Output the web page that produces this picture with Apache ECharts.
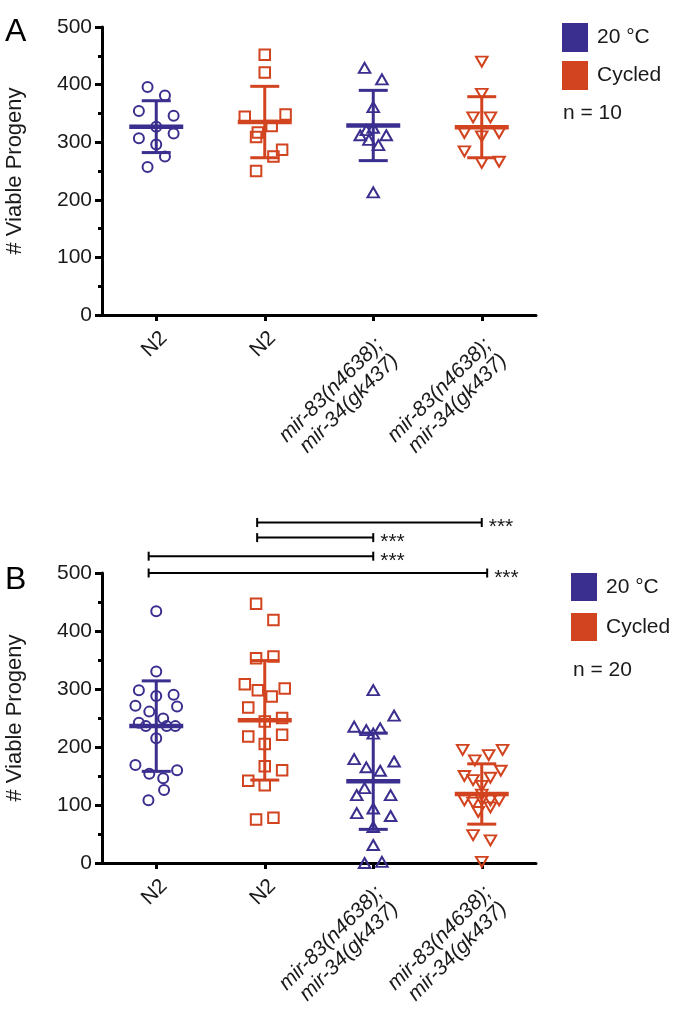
<!DOCTYPE html>
<html><head><meta charset="utf-8">
<script src="https://cdn.jsdelivr.net/npm/echarts@6/dist/echarts.min.js"></script>
<style>html,body{margin:0;padding:0;background:#fff}#c{width:676px;height:1014px}</style>
</head><body><div id="c"></div>
<script>
// ---------- data ----------
const categories = ['N2', 'N2', 'mir-83(n4638);\nmir-34(gk437)', 'mir-83(n4638);\nmir-34(gk437)'];
const categoryItalic = [false, false, true, true];
const yTicks = [0, 100, 200, 300, 400, 500];
const seriesNames = ['20 °C', 'Cycled'];
const groupCondition = [0, 1, 0, 1];          // which legend entry each column belongs to
const groupSymbol = ['circle', 'rect', 'triangle', 'triangleDown'];

// Panel A (n = 10)
const A_N2_20C      = [396, 381, 354, 346, 327, 315, 307, 296, 275, 257];
const A_N2_20C_jit  = [-1, 1, -2, 2, 0, 2, -2, 0, 1, -1];
const A_N2_Cyc      = [452, 421, 348, 344, 328, 317, 309, 287, 275, 250];
const A_N2_Cyc_jit  = [0, 0, 2.4, -2.3, 0.8, -0.8, -1, 2, 1, -1];
const A_mir_20C     = [429, 409, 361, 325, 321, 312, 312, 304, 295, 213];
const A_mir_20C_jit = [-1, 1, 0, 0, -0.8, -1.5, 1.5, -0.5, 0.6, 0];
const A_mir_Cyc     = [440, 384, 343, 343, 316, 316, 310, 284, 266, 264];
const A_mir_Cyc_jit = [0, 0, -1, 1, -2, 2, 0, -2, 2, 0];
const A_mean = [327, 335, 329, 326];
const A_sd   = [45, 62, 61, 53];

// Panel B (n = 20)
const B_N2_20C      = [434, 330, 298, 290, 288, 271, 270, 261, 249, 242, 236, 236, 236, 215, 169, 160, 154, 146, 126, 108];
const B_N2_20C_jit  = [0, 0, -2, 2, 0, -2.4, 2.4, -0.8, 0.8, -2, -1.2, 1.2, 2.2, 0, -2.4, 2.4, -0.8, 0.8, 0.9, -0.9];
const B_N2_Cyc      = [447, 419, 356, 353, 308, 301, 298, 287, 268, 250, 244, 221, 218, 205, 167, 160, 142, 134, 78, 75];
const B_N2_Cyc_jit  = [-1, 1, 1, -1, -2.3, 2.3, -0.8, 0.8, -1.9, 2, 0, 2, -1.9, 0, 0, 2, -1.9, 0, 1, -1];
const B_mir_20C     = [298, 254, 235, 232, 229, 223, 179, 175, 165, 159, 129, 117, 117, 94, 86, 81, 62, 31, 2, 0];
const B_mir_20C_jit = [0, 2.4, -2.2, 0.8, -0.8, 0, -2.2, 2.4, -0.8, 0.8, -1, -1.9, 2, 0, -1.9, 2, 0, 0, 1, -1];
const B_mir_Cyc     = [195, 195, 186, 177, 159, 150, 147, 143, 133, 118, 108, 108, 108, 108, 104, 96, 88, 48, 39, 2];
const B_mir_Cyc_jit = [-2.2, 2.4, 0.8, -0.8, 2.2, -2, 1, -1, 0, 0, -2, 0, 1, 2, -1, 1, -0.4, -1, 1, 0];
const B_mean = [236, 246, 141, 119];
const B_sd   = [78, 103, 83, 52];

// significance comparisons in panel B (category positions, height in y units)
const sigFrom  = [0.93, 0.93, -0.07, -0.07];
const sigTo    = [3, 2, 2, 3.05];
const sigY     = [587, 561, 529, 500];
const sigLabel = ['***', '***', '***', '***'];

const nLabels = ['n = 10', 'n = 20'];
const panelLetters = ['A', 'B'];

// ---------- style ----------
const BLUE = '#3a2e8e';
const ORANGE = '#d2431f';
const condColors = [BLUE, ORANGE];
const FONT = '"Liberation Sans", Arial, Helvetica, sans-serif';
const TXT = '#1a1a1a';
const SLOT = 0.08;   // jitter unit in category widths

const chart = echarts.init(document.getElementById('c'), null, {renderer: 'canvas'});

function symbolOpts(g) {
  const s = groupSymbol[g];
  if (s === 'circle') return {symbol: 'circle', symbolSize: 10};
  if (s === 'rect') return {symbol: 'rect', symbolSize: 10.5};
  if (s === 'triangle') return {symbol: 'triangle', symbolSize: [11.5, 10]};
  return {symbol: 'triangle', symbolSize: [11.5, 10], symbolRotate: 180};
}

function scatterSeries(values, jit, g, xIdx, yIdx) {
  const col = condColors[groupCondition[g]];
  return Object.assign({
    type: 'scatter',
    name: seriesNames[groupCondition[g]],
    xAxisIndex: xIdx, yAxisIndex: yIdx,
    data: values.map((v, i) => [g + jit[i] * SLOT, v]),
    itemStyle: {color: 'rgba(255,255,255,0)', borderColor: col, borderWidth: 2, opacity: 1},
    clip: false, silent: true, z: 2, animation: false
  }, symbolOpts(g));
}

function errorSeries(means, sds, xIdx, yIdx) {
  return {
    type: 'custom', xAxisIndex: xIdx, yAxisIndex: yIdx, clip: false, silent: true, z: 5, animation: false,
    data: means.map((m, i) => [i, m, sds[i]]),
    renderItem: function (params, api) {
      const x = api.value(0), m = api.value(1), s = api.value(2);
      const col = condColors[groupCondition[params.dataIndex]];
      const pm = api.coord([x, m]), pt = api.coord([x, m + s]), pb = api.coord([x, m - s]);
      const ln = (x1, y1, x2, y2, w) => ({type: 'line', shape: {x1, y1, x2, y2}, style: {stroke: col, lineWidth: w, opacity: 1}});
      return {type: 'group', children: [
        ln(pt[0], pt[1], pb[0], pb[1], 3),
        ln(pt[0] - 14.5, pt[1], pt[0] + 14.5, pt[1], 3),
        ln(pb[0] - 14.5, pb[1], pb[0] + 14.5, pb[1], 3),
        ln(pm[0] - 27, pm[1], pm[0] + 27, pm[1], 4.5)
      ]};
    }
  };
}

function sigSeries(xIdx, yIdx) {
  return {
    type: 'custom', xAxisIndex: xIdx, yAxisIndex: yIdx, clip: false, silent: true, z: 5, animation: false,
    data: sigFrom.map((f, i) => [f, sigTo[i], sigY[i]]),
    renderItem: function (params, api) {
      const p1 = api.coord([api.value(0), api.value(2)]);
      const p2 = api.coord([api.value(1), api.value(2)]);
      const st = {stroke: '#000', lineWidth: 2};
      return {type: 'group', children: [
        {type: 'line', shape: {x1: p1[0], y1: p1[1], x2: p2[0], y2: p2[1]}, style: st},
        {type: 'line', shape: {x1: p1[0], y1: p1[1] - 4.5, x2: p1[0], y2: p1[1] + 4.5}, style: st},
        {type: 'line', shape: {x1: p2[0], y1: p2[1] - 4.5, x2: p2[0], y2: p2[1] + 4.5}, style: st},
        {type: 'text', style: {text: sigLabel[params.dataIndex], x: p2[0] + 7, y: p2[1] + 5,
          textAlign: 'left', textVerticalAlign: 'middle', fontSize: 21, fontFamily: FONT, fill: TXT}}
      ]};
    }
  };
}

function yAxis(grid) {
  return {
    gridIndex: grid, type: 'value', min: yTicks[0], max: yTicks[yTicks.length - 1], interval: yTicks[1] - yTicks[0],
    axisLine: {show: true, onZero: false, lineStyle: {color: '#000', width: 3}},
    axisTick: {show: true, length: 7, lineStyle: {color: '#000', width: 3}},
    minorTick: {show: true, splitNumber: 2, length: 4, lineStyle: {color: '#000', width: 3}},
    splitLine: {show: false}, minorSplitLine: {show: false},
    axisLabel: {fontSize: 21, color: TXT, fontFamily: FONT, margin: 10,
      formatter: v => String(yTicks[yTicks.indexOf(v)])},
    name: '# Viable Progeny', nameLocation: 'middle', nameGap: 76,
    nameTextStyle: {fontSize: 22, color: TXT, fontFamily: FONT}
  };
}

function xCatAxis(grid) {
  return {
    gridIndex: grid, type: 'category',
    data: categories.map((c, i) => ({value: c, textStyle: {
      fontStyle: categoryItalic[i] ? 'italic' : 'normal', align: 'right', verticalAlign: 'top',
      padding: categoryItalic[i] ? [4, 6, 0, 0] : 0,
      fontSize: 21, lineHeight: 22, color: TXT, fontFamily: FONT}})),
    axisLine: {show: true, onZero: false, lineStyle: {color: '#000', width: 3}},
    axisTick: {show: true, alignWithLabel: true, length: 6, lineStyle: {color: '#000', width: 3}},
    splitLine: {show: false},
    axisLabel: {interval: 0, rotate: 45, align: 'right', verticalAlign: 'top', margin: 12,
      fontSize: 21, lineHeight: 22, color: TXT, fontFamily: FONT}
  };
}

function xValAxis(grid) {
  return {gridIndex: grid, type: 'value', min: -0.5, max: 3.5, show: false, splitLine: {show: false}};
}

function legend(left, top, gap, h) {
  return {
    left: left, top: top, orient: 'vertical', itemWidth: 26, itemHeight: h, itemGap: gap, selectedMode: false,
    data: seriesNames.map((n, i) => ({name: n, icon: 'rect', itemStyle: {color: condColors[i], borderWidth: 0, opacity: 1}})),
    textStyle: {fontSize: 21, color: TXT, fontFamily: FONT, padding: [0, 0, 0, 4]}
  };
}

const option = {
  backgroundColor: '#fff',
  animation: false,
  textStyle: {fontFamily: FONT},
  grid: [
    {left: 102, top: 27, width: 434, height: 288, containLabel: false, outerBoundsMode: 'none'},
    {left: 102, top: 573, width: 434, height: 290, containLabel: false, outerBoundsMode: 'none'}
  ],
  xAxis: [xCatAxis(0), xValAxis(0), xCatAxis(1), xValAxis(1)],
  yAxis: [yAxis(0), yAxis(1)],
  legend: [legend(557, 18, 9, 29), legend(566, 568, 12, 28)],
  graphic: [
    {type: 'text', left: 5, top: 16, style: {text: panelLetters[0], fontSize: 32, fontFamily: FONT, fill: '#000'}},
    {type: 'text', left: 5, top: 564, style: {text: panelLetters[1], fontSize: 32, fontFamily: FONT, fill: '#000'}},
    {type: 'text', left: 563, top: 103, style: {text: nLabels[0], fontSize: 21, fontFamily: FONT, fill: TXT}},
    {type: 'text', left: 573, top: 660, style: {text: nLabels[1], fontSize: 21, fontFamily: FONT, fill: TXT}}
  ],
  series: [
    scatterSeries(A_N2_20C, A_N2_20C_jit, 0, 1, 0),
    scatterSeries(A_N2_Cyc, A_N2_Cyc_jit, 1, 1, 0),
    scatterSeries(A_mir_20C, A_mir_20C_jit, 2, 1, 0),
    scatterSeries(A_mir_Cyc, A_mir_Cyc_jit, 3, 1, 0),
    errorSeries(A_mean, A_sd, 1, 0),
    scatterSeries(B_N2_20C, B_N2_20C_jit, 0, 3, 1),
    scatterSeries(B_N2_Cyc, B_N2_Cyc_jit, 1, 3, 1),
    scatterSeries(B_mir_20C, B_mir_20C_jit, 2, 3, 1),
    scatterSeries(B_mir_Cyc, B_mir_Cyc_jit, 3, 3, 1),
    errorSeries(B_mean, B_sd, 3, 1),
    sigSeries(3, 1)
  ]
};
chart.setOption(option);
</script>
</body></html>
